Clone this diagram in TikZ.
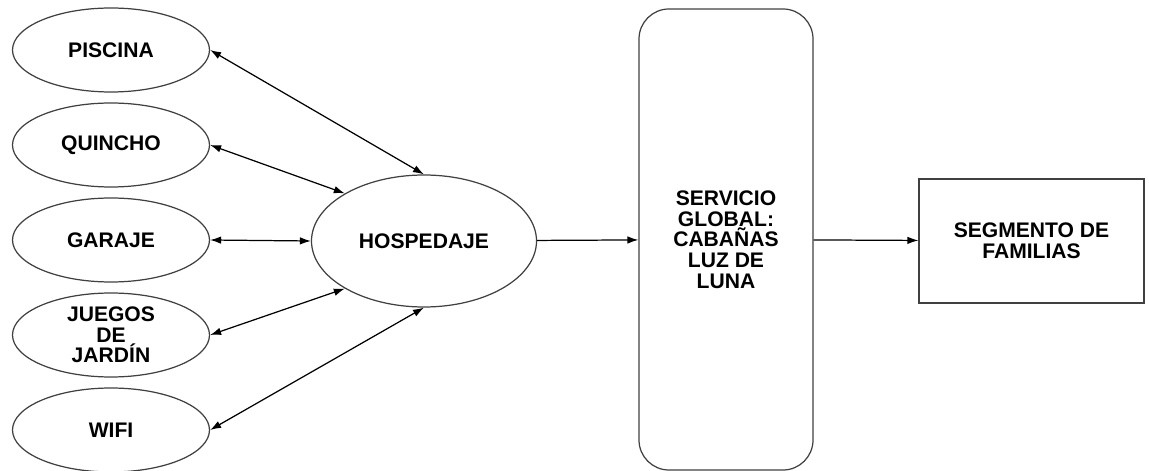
\documentclass[tikz,border=0pt]{standalone}
\usepackage{fontspec}
\setmainfont{Liberation Sans}
\usetikzlibrary{shapes,arrows.meta}

\begin{document}
\begin{tikzpicture}[
  font=\fontsize{12}{11.8}\selectfont\bfseries,
  servicio/.style={draw=black!75, line width=0.7pt, ellipse, minimum width=3.94cm, minimum height=1.68cm, align=center, inner sep=0pt},
  flecha/.style={line width=0.7pt, -{Latex[length=2.2mm,width=1.5mm]}},
  doble/.style={line width=0.7pt, {Latex[length=2.2mm,width=1.5mm]}-{Latex[length=2.2mm,width=1.5mm]}}]
  \useasboundingbox (0,0) rectangle (22.98,-9.42);

  \node[servicio] (piscina) at (2.22,-1.0) {PISCINA};
  \node[servicio] (quincho) at (2.22,-2.9) {QUINCHO};
  \node[servicio] (garaje) at (2.22,-4.8) {GARAJE};
  \node[servicio] (juegos) at (2.22,-6.7) {JUEGOS\\DE\\JARDÍN};
  \node[servicio] (wifi) at (2.22,-8.6) {WIFI};

  \node[servicio, minimum width=4.5cm, minimum height=2.64cm] (hospedaje) at (8.48,-4.82) {HOSPEDAJE};
  \node[draw=black!75, line width=0.7pt, rectangle, rounded corners=0.6cm, minimum width=3.48cm, minimum height=9.22cm, align=center] (global) at (14.52,-4.79) {SERVICIO\\GLOBAL:\\CABAÑAS\\LUZ DE\\LUNA};
  \node[draw=black!75, line width=0.7pt, rectangle, minimum width=4.5cm, minimum height=2.48cm, align=center] (segmento) at (20.63,-4.82) {SEGMENTO DE\\FAMILIAS};

  \path[doble] (piscina.east) edge (hospedaje.north);
  \path[doble] (quincho.east) edge (hospedaje.149);
  \path[doble] (garaje.east) edge (hospedaje.west);
  \path[doble] (juegos.east) edge (hospedaje.211);
  \path[doble] (wifi.east) edge (hospedaje.south);

  \path[flecha] (hospedaje) edge (global);
  \path[flecha] (global) edge (segmento);
\end{tikzpicture}
\end{document}
